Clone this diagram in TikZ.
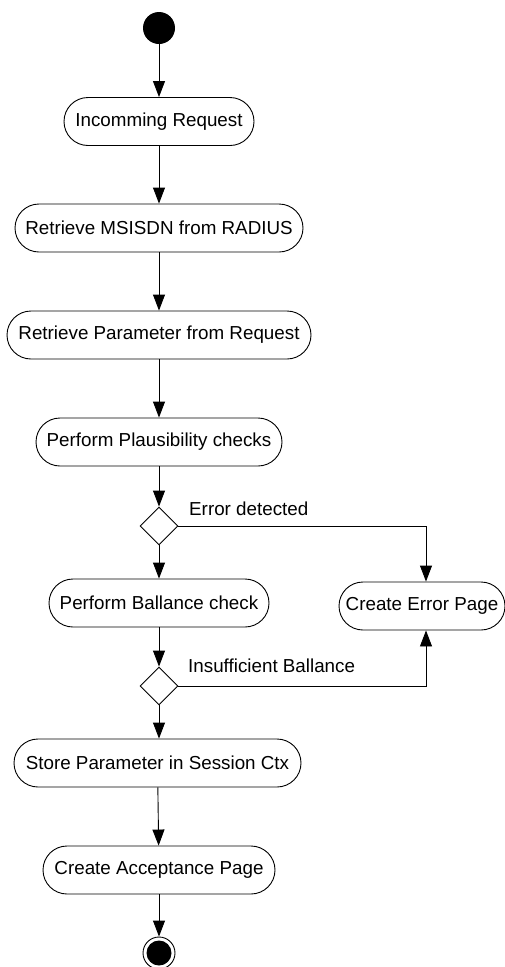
\documentclass[tikz,border=0pt]{standalone}
\usepackage{fontspec}
\setmainfont{Liberation Sans}
\usetikzlibrary{arrows.meta,shapes.geometric}

\tikzset{
  activity/.style={draw, line width=0.9pt, rectangle, rounded corners=24pt,
    minimum height=48pt, inner sep=0pt, align=center,
    font=\fontsize{18.8}{22}\selectfont},
  decision/.style={draw, line width=0.9pt, diamond, minimum width=38pt,
    minimum height=38pt, inner sep=0pt},
  startnode/.style={circle, fill=black, minimum size=32pt, inner sep=0pt},
  endnode/.style={circle, draw, line width=0.9pt, minimum size=32pt, inner sep=0pt,
    path picture={\fill (path picture bounding box.center) circle (12.5pt);}},
  guard/.style={anchor=base west, inner sep=0pt, font=\fontsize{18.8}{22}\selectfont},
  flow/.style={line width=0.9pt, -{Triangle[length=16pt,width=12pt]}},
}

\begin{document}
\begin{tikzpicture}[x=1pt, y=-1pt]
  \useasboundingbox (0,0) rectangle (505,967);

  % activity nodes
  \node[startnode] (start) at (159,28) {};
  \node[activity, minimum width=190pt] (incoming) at (159,121.5) {Incomming Request};
  \node[activity, minimum width=288pt] (msisdn) at (159,228) {Retrieve MSISDN from RADIUS};
  \node[activity, minimum width=304pt] (params) at (159,335) {Retrieve Parameter from Request};
  \node[activity, minimum width=246pt] (plaus) at (159,442) {Perform Plausibility checks};
  \node[decision] (dec1) at (159,526) {};
  \node[activity, minimum width=220pt] (balance) at (159,603) {Perform Ballance check};
  \node[activity, minimum width=166pt] (errpage) at (422,606) {Create Error Page};
  \node[decision] (dec2) at (159,686) {};
  \node[activity, minimum width=287pt] (store) at (157.5,763) {Store Parameter in Session Ctx};
  \node[activity, minimum width=232pt] (accept) at (159,870) {Create Acceptance Page};
  \node[endnode] (finish) at (159,953) {};

  % guard labels
  \node[guard] (errlabel) at (189,515) {Error detected};
  \node[guard] (ballabel) at (188,672.5) {Insufficient Ballance};

  % control flow
  \draw[flow] (start) -- (incoming);
  \draw[flow] (incoming) -- (msisdn);
  \draw[flow] (msisdn) -- (params);
  \draw[flow] (params) -- (plaus);
  \draw[flow] (plaus) -- (dec1);
  \draw[flow] (dec1) -- (balance);
  \draw[flow] (dec1.east) -| ([xshift=4pt]errpage.north);
  \draw[flow] (balance) -- (dec2);
  \draw[flow] (dec2.east) -| ([xshift=4pt]errpage.south);
  \draw[flow] (dec2.south) -- (store.north -| dec2.south);
  \draw[flow] (store) -- (accept);
  \draw[flow] (accept) -- (finish);
\end{tikzpicture}
\end{document}
